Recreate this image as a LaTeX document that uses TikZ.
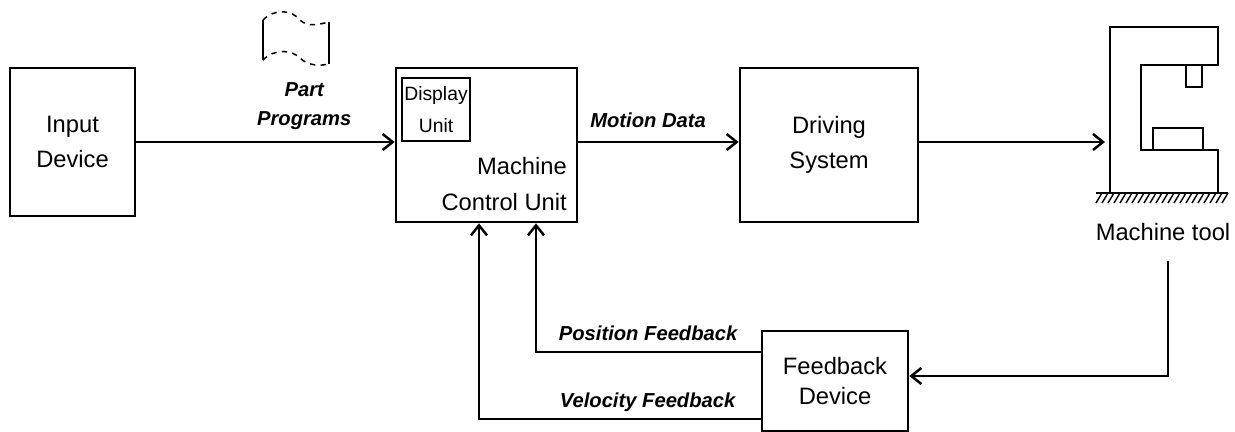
\documentclass[tikz,border=0pt]{standalone}
\usepackage{fontspec}
\setmainfont{Liberation Sans}
\usetikzlibrary{arrows.meta}

\tikzset{
  block/.style={draw, line width=0.055cm, align=center, font=\fontsize{13.5}{20}\selectfont},
  lbl/.style={font=\fontsize{11.5}{16.5}\selectfont\bfseries\itshape, align=center}
}

\begin{document}
\begin{tikzpicture}[x=0.02cm, y=-0.02cm, line width=0.05cm,
  >={Straight Barb[length=0.2cm,width=0.32cm]}]
\useasboundingbox (0,0) rectangle (1235,432);

% blocks
\node[block, minimum width=2.5cm, minimum height=2.96cm] (input) at (72.5,142) {Input\\Device};
\node[block, minimum width=3.62cm, minimum height=3.08cm] (mcu) at (486.5,145) {};
\node[block, minimum width=1.36cm, minimum height=1.26cm, inner sep=1pt,
  font=\fontsize{11}{18}\selectfont] (disp) at (436,109.5) {Display\\Unit};
\node[align=right, anchor=south east, font=\fontsize{13.5}{20}\selectfont]
  (mcutext) at ([xshift=-0.09cm, yshift=0.12cm]mcu.south east) {Machine\\Control Unit};
\node[block, minimum width=3.56cm, minimum height=3.08cm] (drive) at (829,145) {Driving\\System};
\node[block, minimum width=2.92cm, minimum height=2.0cm,
  font=\fontsize{13.5}{17}\selectfont] (fbdev) at (835,381) {Feedback\\Device};

% part program tape
\draw[line width=0.03cm] (263,20) -- (263,60);
\draw[line width=0.03cm] (329,22) -- (329,64);
\draw[line width=0.03cm, dashed] (263,20) .. controls (275,8) and (292,10) .. (300,20)
  .. controls (308,28) and (320,24) .. (329,22);
\draw[line width=0.03cm, dashed] (263,60) .. controls (275,48) and (292,50) .. (300,58)
  .. controls (308,66) and (320,66) .. (329,64);

% machine tool
\draw[line width=0.045cm] (1110,193) -- (1110,27) -- (1218,27) -- (1218,65) -- (1141,65)
  -- (1141,150) -- (1218,150) -- (1218,193);
\draw[line width=0.045cm] (1186,65) rectangle (1202,87);
\draw[line width=0.045cm] (1153,150) rectangle (1203,128);
\draw[line width=0.045cm] (1096,193) -- (1228,193);
\foreach \x in {1096,1102,...,1222}
  \draw[line width=0.8pt] (\x,203) -- (\x+6,193);
\node[font=\fontsize{13.5}{16}\selectfont] (mtlbl) at (1163,232) {Machine tool};
\coordinate (mtin) at (1105,142);
\coordinate (mtout) at (1168,261);

% signal flow
\draw[->] (input.east) -- (input.east -| mcu.west)
  node[lbl, pos=0.65, above=0.1cm] {Part\\Programs};
\draw[->] (mcu.east |- mtin) -- (drive.west |- mtin)
  node[lbl, pos=0.435, above=0.15cm] {Motion Data};
\draw[->] (drive.east |- mtin) -- (mtin);
\draw[->] (mtout) |- (fbdev.east |- 0,376);
\draw[->] (fbdev.west |- 0,352) -| ([xshift=0.99cm]mcu.south)
  node[lbl, pos=0, anchor=base east, inner sep=0, xshift=-0.44cm, yshift=0.24cm] {Position Feedback};
\draw[->] (fbdev.west |- 0,419) -| ([xshift=-0.15cm]mcu.south)
  node[lbl, pos=0, anchor=base east, inner sep=0, xshift=-0.48cm, yshift=0.24cm] {Velocity Feedback};
\end{tikzpicture}
\end{document}
